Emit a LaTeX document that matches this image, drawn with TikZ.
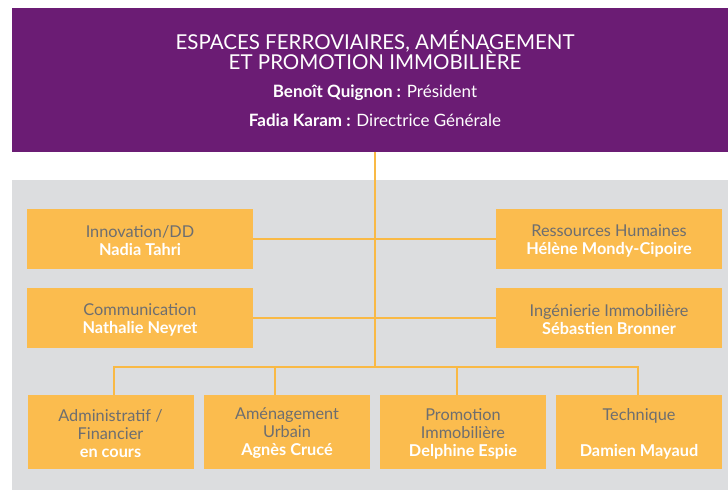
\documentclass[tikz,border=0pt]{standalone}
\usepackage{fontspec}
\setmainfont{Lato}
\definecolor{purplebg}{HTML}{6B1C74}
\definecolor{graybg}{HTML}{DCDDDF}
\definecolor{orgbox}{HTML}{FBBC4E}
\definecolor{orgline}{HTML}{F9B945}
\definecolor{txtgray}{HTML}{6D6E70}
\begin{document}
\begin{tikzpicture}[x=1pt,y=-1pt,
  box/.style={fill=orgbox, draw=none, inner sep=0pt, minimum height=60pt},
  wbox/.style={box, minimum width=226pt},
  nbox/.style={box, minimum width=166pt, minimum height=74pt},
  boxtxt/.style={inner sep=0pt, align=center, text=txtgray, yshift=-1.5pt,
    font=\fontsize{16.3}{18}\selectfont},
  link/.style={draw=orgline, line width=2.6pt},
  toptxt/.style={text=white, anchor=base, inner sep=0pt}]
\useasboundingbox (0,0) rectangle (728,492);
\fill[graybg] (12,180) rectangle (728,490);
\node[fill=purplebg, minimum width=716pt, minimum height=144pt, inner sep=0pt] (top) at (370,80) {};
\node[toptxt, font=\fontsize{20.5}{20}\selectfont] (t1) at (375,50) {ESPACES FERROVIAIRES, AMÉNAGEMENT};
\node[toptxt, font=\fontsize{20.5}{20}\selectfont] (t2) at (375,70) {ET PROMOTION IMMOBILIÈRE};
\node[toptxt, font=\fontsize{17}{18}\selectfont] (t3) at (375,98) {\textbf{Benoît Quignon :} Président};
\node[toptxt, font=\fontsize{17}{18}\selectfont] (t4) at (375,127) {\textbf{Fadia Karam :} Directrice Générale};

\node[wbox] (l1) at (140,239) {};
\node[wbox] (r1) at (609,239) {};
\node[wbox] (l2) at (140,318) {};
\node[wbox] (r2) at (609,318) {};
\node[nbox] (d1) at (110.5,432) {};
\node[nbox] (d2) at (287,432) {};
\node[nbox] (d3) at (463,432) {};
\node[nbox] (d4) at (639,432) {};

\node[boxtxt] (l1t) at (l1) {Innovation/DD\\\textcolor{white}{\textbf{Nadia Tahri}}};
\node[boxtxt] (r1t) at (r1) {Ressources Humaines\\\textcolor{white}{\textbf{Hélène Mondy-Cipoire}}};
\node[boxtxt] (l2t) at (l2) {Communication\\\textcolor{white}{\textbf{Nathalie Neyret}}};
\node[boxtxt] (r2t) at (r2) {Ingénierie Immobilière\\\textcolor{white}{\textbf{Sébastien Bronner}}};
\node[boxtxt] (d1t) at (d1) {Administratif /\\Financier\\\textcolor{white}{\textbf{en cours}}};
\node[boxtxt] (d2t) at (d2) {Aménagement\\Urbain\\\textcolor{white}{\textbf{Agnès Crucé}}};
\node[boxtxt] (d3t) at (d3) {Promotion\\Immobilière\\\textcolor{white}{\textbf{Delphine Espie}}};
\node[boxtxt] (d4t) at (d4) {Technique\\~\\\textcolor{white}{\textbf{Damien Mayaud}}};

\coordinate (bar) at (375,367);
\coordinate (b1) at (114,367);
\coordinate (b2) at (275,367);
\coordinate (b3) at (457,367);
\coordinate (b4) at (638,367);

\draw[link] (l1.east) -- (r1.west);
\draw[link] (l2.east) -- (r2.west);
\draw[link] (top.south -| bar) -- (bar);
\draw[link] (b1 |- d1.north) -- (b1) -- (b4) -- (b4 |- d4.north);
\draw[link] (b2) -- (b2 |- d2.north);
\draw[link] (b3) -- (b3 |- d3.north);
\end{tikzpicture}
\end{document}
